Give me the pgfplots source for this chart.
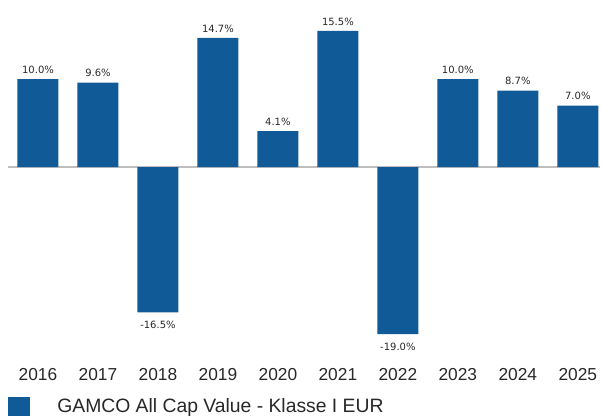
\documentclass[border=0pt]{standalone}
\usepackage{pgfplots}
\pgfplotsset{compat=1.18}
\usepackage{fontspec}
\setmainfont{Liberation Sans}
\newfontfamily\dejavu{DejaVu Sans}
\definecolor{barblue}{RGB}{16,91,151}
\definecolor{txt}{RGB}{40,40,40}
\definecolor{zline}{RGB}{190,190,190}
\begin{document}
\begin{tikzpicture}
\path[use as bounding box] (0pt,0pt) rectangle (452.25pt,-312pt);
\begin{axis}[
  at={(6pt,0pt)}, anchor=north west,
  scale only axis, width=444pt, height=268.5pt,
  xmin=-0.5, xmax=9.37, ymin=-21.7, ymax=19,
  ybar, bar width=30.75pt, bar shift=0pt,
  axis line style={draw=none},
  ymajorticks=false,
  xtick={0,...,9},
  xticklabels={2016,2017,2018,2019,2020,2021,2022,2023,2024,2025},
  major tick length=0pt,
  xticklabel style={font=\fontsize{13}{13}\selectfont, text=txt, yshift=-4.5pt},
  /pgf/number format/assume math mode=true,
  nodes near coords={\pgfmathprintnumber[fixed,fixed zerofill,precision=1]{\pgfplotspointmeta}\%},
  nodes near coords align=vertical,
  every node near coord/.append style={font=\dejavu\fontsize{7.5}{9}\selectfont, text=txt, inner sep=4pt},
  clip=false,
  legend style={at={(0,-0.106)}, anchor=north west, draw=none, inner sep=0pt, outer sep=0pt,
    font=\fontsize{14.5}{16}\selectfont, text=txt,
    nodes={yshift=1.5pt}},
  legend image code/.code={\fill[barblue] (0pt,-6pt) rectangle (16.5pt,9pt); \path (35pt,0pt);},
]
\draw[zline, line width=1pt] (axis cs:-0.5,0) -- (axis cs:9.37,0);
\addplot[fill=barblue, draw=none] coordinates {
  (0,10.0) (1,9.6) (3,14.7) (4,4.1) (5,15.5) (7,10.0) (8,8.7) (9,7.0)
};
\addlegendentry{GAMCO All Cap Value - Klasse I EUR}
\addplot[fill=barblue, draw=none, forget plot,
  every node near coord/.append style={yshift=-2.5pt}] coordinates {
  (2,-16.5) (6,-19.0)
};
\end{axis}
\end{tikzpicture}
\end{document}
